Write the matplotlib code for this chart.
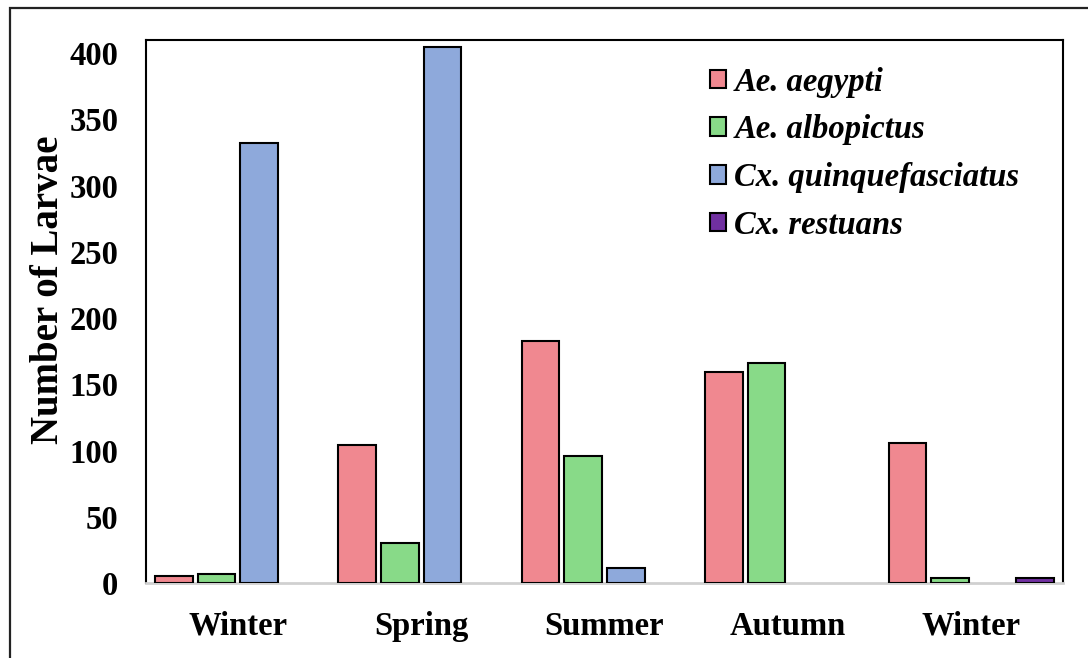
import numpy as np
import matplotlib
matplotlib.use('Agg')
import matplotlib.pyplot as plt
from matplotlib.patches import Rectangle

plt.rcParams['font.family'] = ['Liberation Serif', 'DejaVu Serif']
plt.rcParams['font.weight'] = 'bold'

# 季节
seasons = ['Winter', 'Spring', 'Summer', 'Autumn', 'Winter']
species = ['Ae. aegypti', 'Ae. albopictus', 'Cx. quinquefasciatus', 'Cx. restuans']

aegypti = [5, 104, 183, 159, 106]
albopictus = [7, 30, 96, 166, 4]
quinque = [332, 405, 11, 0, 0]
restuans = [0, 0, 0, 0, 4]

colors = ['#F08890', '#88DA88', '#8EA9DB', '#7030A0']

fig = plt.figure(figsize=(10.88, 6.58), dpi=100)
ax = fig.add_axes([146/1088, 1-583/658, (1063-146)/1088, (583-40)/658])

x = np.arange(len(seasons))
slot = 0.232
w = 0.205
series = [aegypti, albopictus, quinque, restuans]
for i, vals in enumerate(series):
    vals = np.array(vals, dtype=float)
    xs = x + (i - 1.5) * slot
    mask = vals > 0
    ax.bar(xs[mask], vals[mask], width=w, color=colors[i], edgecolor='black',
           linewidth=1.5, zorder=3)

ax.set_xlim(-0.5, 4.5)
ax.set_ylim(0, 410)
ax.set_yticks(range(0, 401, 50))
ax.set_xticks(x)
ax.set_xticklabels(seasons)
ax.tick_params(axis='both', length=0, labelsize=23.5)
ax.tick_params(axis='y', pad=20)
ax.tick_params(axis='x', pad=20)

for s in ['left', 'top', 'right']:
    ax.spines[s].set_color('black')
    ax.spines[s].set_linewidth(1.5)
ax.spines['bottom'].set_color('#D0D0D0')
ax.spines['bottom'].set_linewidth(2)

ax.set_ylabel('Number of Larvae', fontsize=28, fontweight='bold')
ax.yaxis.set_label_coords(-0.086, 0.54)

handles = [Rectangle((0, 0), 1, 1, facecolor=c, edgecolor='black', linewidth=1.5) for c in colors]
leg = ax.legend(handles, species, loc='upper left', bbox_to_anchor=(0.583, 1.005),
                frameon=False, handlelength=0.5, handleheight=0.5, handletextpad=0.25,
                labelspacing=0.51, prop={'family': 'Liberation Serif', 'weight': 'bold',
                                         'style': 'italic', 'size': 23.5})

# 外框
fig.patches.append(Rectangle((10/1088, -0.1), 1.2, 1.1 - 8/658, transform=fig.transFigure,
                             fill=False, edgecolor='#222222', linewidth=1.6))

plt.savefig('out.png', dpi=100)
